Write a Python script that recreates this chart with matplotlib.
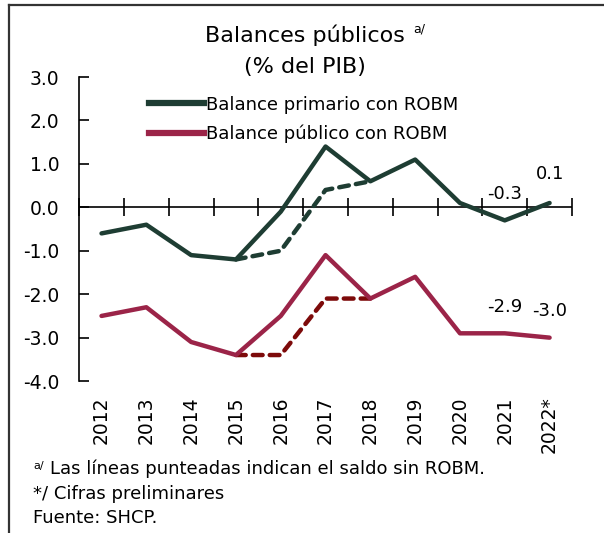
import numpy as np
import matplotlib
matplotlib.use("Agg")
from matplotlib import pyplot as plt
from matplotlib.lines import Line2D

plt.rcParams['font.family'] = ['DejaVu Sans']

# Data (% del PIB)
years = ["2012", "2013", "2014", "2015", "2016", "2017", "2018", "2019", "2020", "2021", "2022*"]
primario = [-0.6, -0.4, -1.1, -1.2, -0.1, 1.4, 0.6, 1.1, 0.1, -0.3, 0.1]
publico = [-2.5, -2.3, -3.1, -3.4, -2.5, -1.1, -2.1, -1.6, -2.9, -2.9, -3.0]
# saldo sin ROBM (2015-2018)
sin_years = ["2015", "2016", "2017", "2018"]
primario_sin = [-1.2, -1.0, 0.4, 0.6]
publico_sin = [-3.4, -3.4, -2.1, -2.1]
# labelled values
lab_years = ["2021", "2022*"]
lab_prim = [-0.3, 0.1]
lab_pub = [-2.9, -3.0]

green = "#1e3d33"
maroon = "#9b2448"
darkred = "#7d0a0a"

x = np.arange(len(years))
xs = [years.index(y) for y in sin_years]
xl = [years.index(y) for y in lab_years]

fig = plt.figure(figsize=(6.04, 5.33), dpi=100)
ax = fig.add_axes([0.131, 0.285, 0.816, 0.5705])

ax.axhline(0, color="black", lw=1.2, zorder=1)
ax.plot(xs, primario_sin, color=green, lw=3.2, ls=(0, (2.2, 1.6)), dash_capstyle='round', zorder=2)
ax.plot(xs, publico_sin, color=darkred, lw=3.2, ls=(0, (2.2, 1.6)), dash_capstyle='round', zorder=2)
ax.plot(x, primario, color=green, lw=3.2, solid_capstyle='round', zorder=3)
ax.plot(x, publico, color=maroon, lw=3.2, solid_capstyle='round', zorder=3)

ax.set_xlim(-0.5, len(years) - 0.5)
ax.set_ylim(-4, 3)
yt = np.arange(-4, 3.1, 1)
ax.set_yticks(yt)
ax.set_yticklabels([f"{v:.1f}" for v in yt], fontsize=13.5)
ax.tick_params(axis='y', direction='in', length=7, width=1.2, pad=14)

ax.set_xticks(x)
ax.set_xticklabels(years, rotation=90, fontsize=13.5)
ax.tick_params(axis='x', length=0, pad=11)

for s in ["top", "right", "bottom"]:
    ax.spines[s].set_visible(False)
ax.spines["left"].set_linewidth(1.2)

# boundary ticks on the zero line
sec = ax.secondary_xaxis(4 / 7)
sec.set_xticks(np.arange(-0.5, len(years), 1))
sec.tick_params(axis='x', direction='inout', length=13, width=1.2, labelbottom=False, labeltop=False)
for s in sec.spines.values():
    s.set_visible(False)

for xi, v in zip(xl, lab_prim):
    ax.text(xi, v + (0.45 if v > 0 else 0.4), f"{v:.1f}", ha='center', va='bottom', fontsize=13)
for xi, v in zip(xl, lab_pub):
    ax.text(xi, v + 0.4, f"{v:.1f}", ha='center', va='bottom', fontsize=13)

handles = [Line2D([], [], color=green, lw=4.5), Line2D([], [], color=maroon, lw=4.5)]
ax.legend(handles, ["Balance primario con ROBM", "Balance público con ROBM"],
          loc='upper left', bbox_to_anchor=(0.128, 0.962), frameon=False, fontsize=13,
          handlelength=3.0, handletextpad=0.15, labelspacing=0.62, borderaxespad=0.0)

# title
fig.text(0.505, 0.933, "Balances públicos", ha='center', va='center', fontsize=16)
fig.text(0.685, 0.946, "a/", ha='left', va='center', fontsize=9)
fig.text(0.505, 0.874, "(% del PIB)", ha='center', va='center', fontsize=16)

# footnotes
fig.text(0.055, 0.125, "a/", ha='left', va='center', fontsize=8)
fig.text(0.082, 0.120, "Las líneas punteadas indican el saldo sin ROBM.", ha='left', va='center', fontsize=13)
fig.text(0.055, 0.073, "*/ Cifras preliminares", ha='left', va='center', fontsize=13)
fig.text(0.055, 0.028, "Fuente: SHCP.", ha='left', va='center', fontsize=13)

# frame
fig.add_artist(Line2D([0.015, 0.015], [0, 0.99], color="#333333", lw=1.6, transform=fig.transFigure))
fig.add_artist(Line2D([0.015, 1.0], [0.99, 0.99], color="#333333", lw=1.6, transform=fig.transFigure))

fig.savefig("out.png", dpi=100)
